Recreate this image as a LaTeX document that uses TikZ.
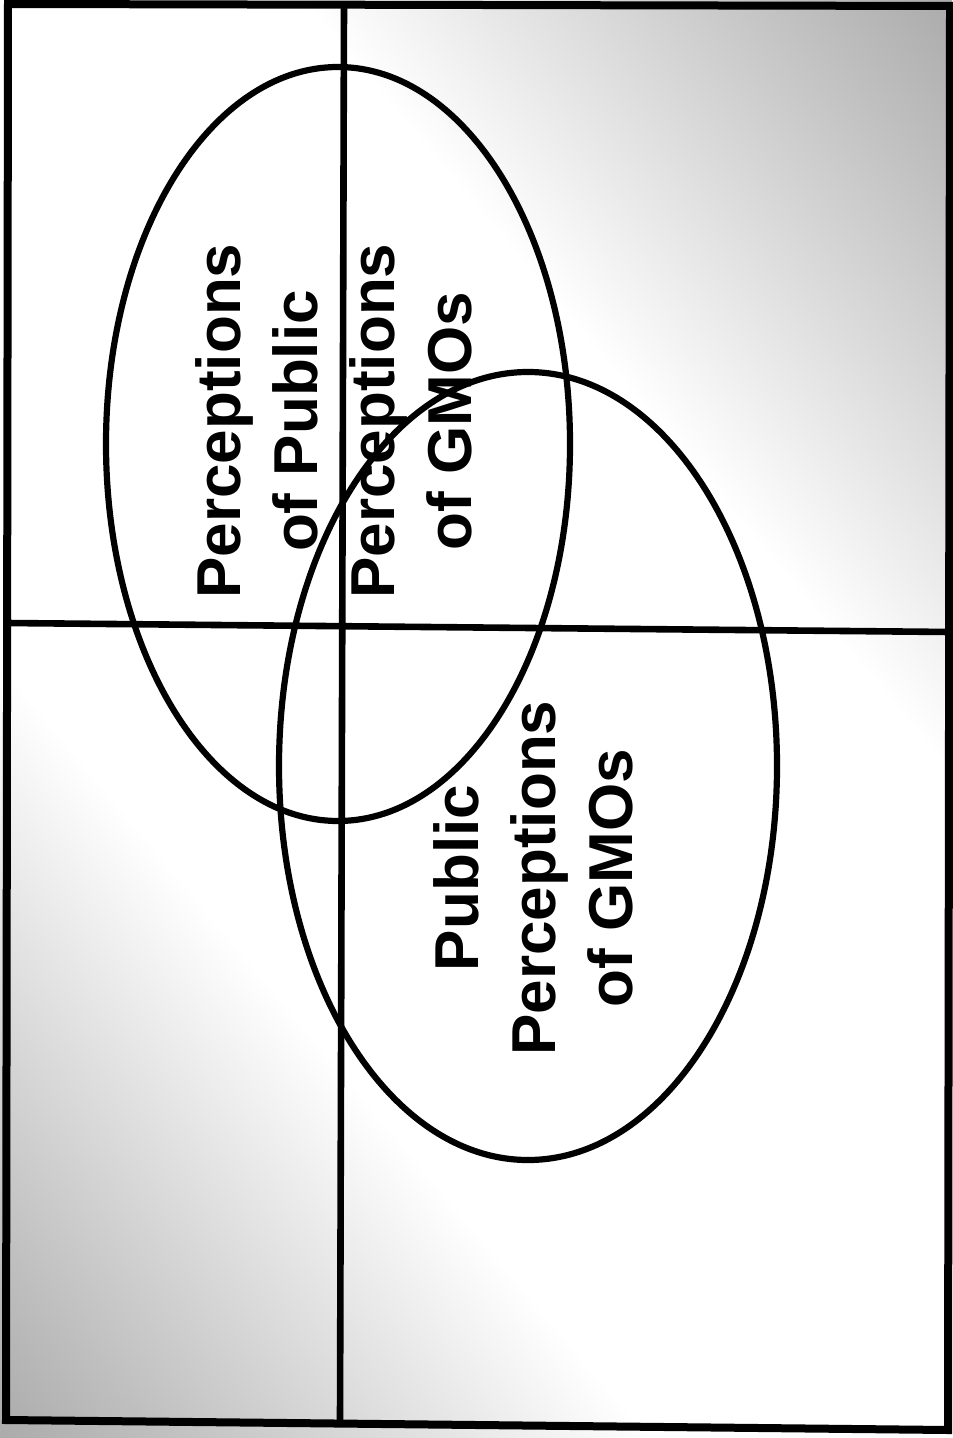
\documentclass[tikz,border=0pt]{standalone}
\usepackage{fontspec}
\newfontfamily\labfont{Liberation Sans}
\pgfdeclarehorizontalshading{bgshade}{100bp}{color(0bp)=(black!55); color(20bp)=(black!25); color(36bp)=(white); color(64bp)=(white); color(80bp)=(black!25); color(100bp)=(black!55)}
\tikzset{
  frameline/.style={line width=4pt, black},
  axisline/.style={line width=3.3pt, black},
  oval/.style={line width=3.1pt, black},
  lab/.style={font=\labfont\bfseries\fontsize{31}{38.5}\selectfont, align=center, rotate=90, inner sep=0pt}
}
\begin{document}
\begin{tikzpicture}[x=0.5pt, y=-0.5pt]
\useasboundingbox (0,0) rectangle (952,1438);
\shade[shading=bgshade, shading angle=40] (0,0) rectangle (952,1438);
% frame
\coordinate (tl) at (8,4);
\coordinate (tr) at (950,6);
\coordinate (br) at (948,1430);
\coordinate (bl) at (6,1420);
\draw[frameline] (tl) -- (tr) -- (br) -- (bl) -- cycle;
% axes
\coordinate (vtop) at (344,4);
\coordinate (vbot) at (340,1422);
\coordinate (hl) at (7,623);
\coordinate (hr) at (950,632);
\draw[axisline] (vtop) -- (vbot);
\draw[axisline] (hl) -- (hr);
% ellipses
\draw[oval] (338,444) ellipse [x radius=232, y radius=377];
\draw[oval] (528,766) ellipse [x radius=249, y radius=394];
% labels
\node[lab] (pp) at (257,421) {Perceptions\\of Public};
\node[lab] (pg) at (411,421) {Perceptions\\of GMOs};
\node[lab] (ppg) at (533,878) {Public\\Perceptions\\of GMOs};
\end{tikzpicture}
\end{document}
